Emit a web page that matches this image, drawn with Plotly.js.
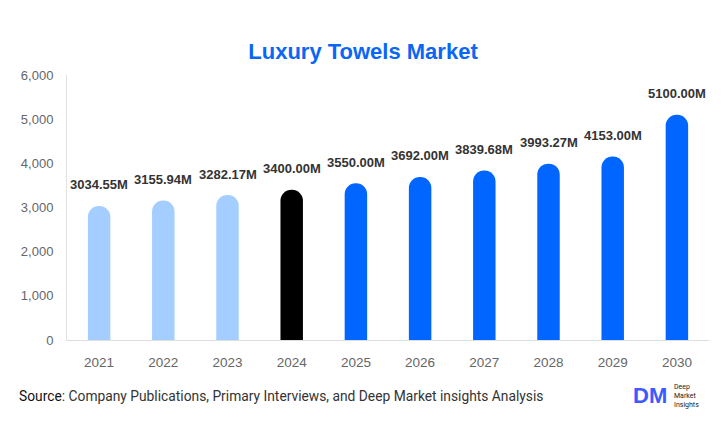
<!DOCTYPE html>
<html>
<head>
<meta charset="utf-8">
<script src="https://cdn.plot.ly/plotly-3.0.1.min.js"></script>
<style>html,body{margin:0;padding:0;background:#fff;}#chart{width:726px;height:443px;}</style>
</head>
<body>
<div id="chart"></div>
<script>
const years = ["2021","2022","2023","2024","2025","2026","2027","2028","2029","2030"];
const values = [3034.55, 3155.94, 3282.17, 3400.00, 3550.00, 3692.00, 3839.68, 3993.27, 4153.00, 5100.00];
const valueLabels = ["3034.55M","3155.94M","3282.17M","3400.00M","3550.00M","3692.00M","3839.68M","3993.27M","4153.00M","5100.00M"];
const barColors = ["#A3CEFF","#A3CEFF","#A3CEFF","#000000","#0066FF","#0066FF","#0066FF","#0066FF","#0066FF","#0066FF"];
const yTicks = [0,1000,2000,3000,4000,5000,6000];

const trace = {
  type: "bar",
  x: years,
  y: values,
  marker: {color: barColors, cornerradius: 11, line: {width: 0}},
  hoverinfo: "none"
};

const annotations = years.map((yr, i) => ({
  x: i, y: values[i], xref: "x", yref: "y",
  text: valueLabels[i], showarrow: false, yshift: 21,
  font: {family: "Liberation Sans, Arial, sans-serif", size: 13, color: "#333333", weight: 700}
}));

annotations.push({
  xref: "paper", yref: "paper", x: -0.078, y: -0.211, xanchor: "left", yanchor: "middle",
  showarrow: false, align: "left",
  text: "<span style='color:#111'>Source</span>: Company Publications, Primary Interviews, and Deep Market insights Analysis",
  font: {family: "Roboto, sans-serif", size: 13.8, color: "#333333"}
});
annotations.push({
  xref: "paper", yref: "paper", x: 0.878, y: -0.211, xanchor: "left", yanchor: "middle",
  showarrow: false, text: "<b>DM</b>",
  font: {family: "Liberation Sans, Arial, sans-serif", size: 22, color: "#3B5BFF"}
});
annotations.push({
  xref: "paper", yref: "paper", x: 0.942, y: -0.211, xanchor: "left", yanchor: "middle",
  showarrow: false, align: "left", text: "Deep<br>Market<br>Insights",
  font: {family: "Roboto, sans-serif", size: 7, color: "#222"}
});

const layout = {
  width: 726, height: 443,
  margin: {l: 67, r: 17, t: 75, b: 103},
  paper_bgcolor: "#ffffff", plot_bgcolor: "#ffffff",
  title: {text: "<b>Luxury Towels Market</b>", x: 0.5, xanchor: "center", y: 0.885, yanchor: "middle",
    font: {family: "Liberation Sans, Arial, sans-serif", size: 22, color: "#0A66F5"}},
  bargap: 0.65,
  showlegend: false,
  xaxis: {
    type: "category", range: [-0.5, 9.5], showgrid: false, showline: true, linecolor: "#DDDDDD", linewidth: 1,
    ticks: "", ticklen: 0, tickfont: {family: "Liberation Sans, Arial, sans-serif", size: 13.5, color: "#666666"},
    ticklabelstandoff: 10, zeroline: false
  },
  yaxis: {
    range: [0, 6000], tickvals: yTicks, tickformat: ",", showgrid: false,
    showline: true, linecolor: "#E2E2E2", linewidth: 1, zeroline: false,
    ticks: "", tickfont: {family: "Liberation Sans, Arial, sans-serif", size: 13, color: "#666666"},
    ticklabelstandoff: 10
  },
  annotations: annotations
};

Plotly.newPlot("chart", [trace], layout, {displayModeBar: false, staticPlot: true});
</script>
</body>
</html>
